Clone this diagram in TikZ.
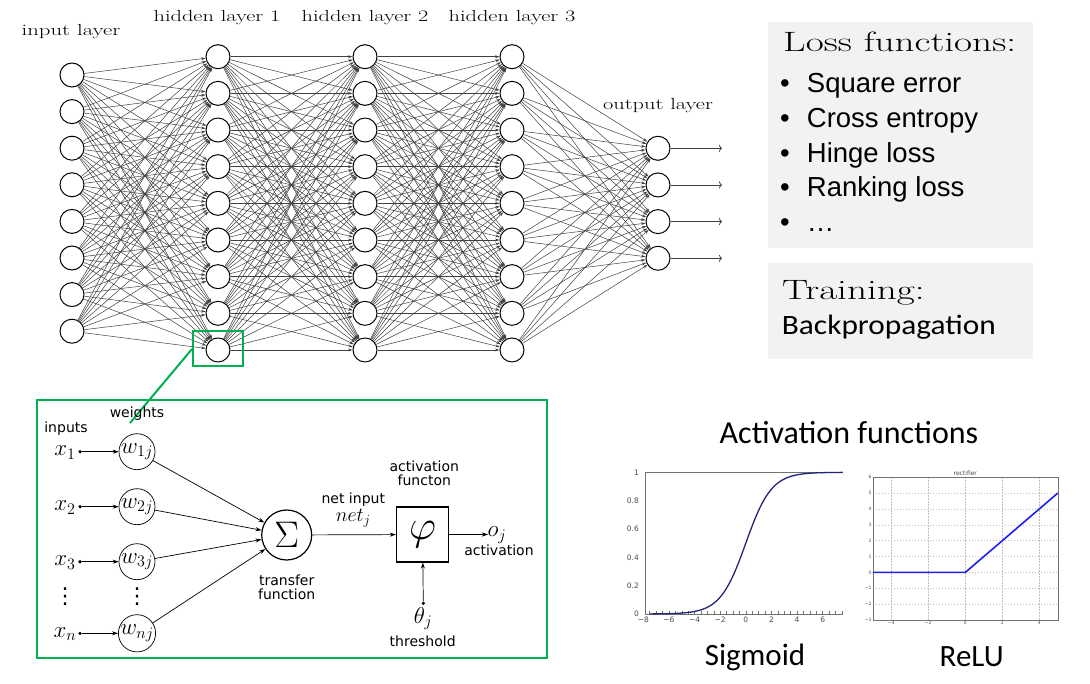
\RequirePackage{fix-cm}
\documentclass[tikz,border=0pt]{standalone}
\usepackage{fontspec}
\usepackage{amsmath}
\usetikzlibrary{arrows.meta,positioning}
\newfontfamily\arialfont{Liberation Sans}
\newfontfamily\calibrifont{Carlito}
\newfontfamily\verafont{DejaVu Sans}
\definecolor{frame green}{RGB}{0,176,80}
\definecolor{panel gray}{RGB}{242,242,242}
\definecolor{sigmoid navy}{RGB}{36,36,120}
\definecolor{relu blue}{RGB}{30,30,240}
\newcommand{\widened}[2]{\scalebox{#1}[1]{#2}}
\tikzset{unit node/.style={circle, draw, line width=1pt, fill=white, minimum size=24pt, inner sep=0pt}}
\tikzset{net edge/.style={draw=black!75, line width=0.5pt, -{Stealth[length=4.5pt,width=2.8pt]}}}
\tikzset{out edge/.style={draw=black!75, line width=0.8pt, -{To[length=3pt,width=7pt]}}}
\tikzset{layer label/.style={anchor=base, inner sep=0pt, font=\fontsize{16}{18}\selectfont}}
\tikzset{green frame/.style={draw=frame green, line width=2pt, inner sep=0pt}}
\tikzset{weight node/.style={circle, draw, line width=0.7pt, minimum size=36pt, inner sep=0pt, font=\fontsize{23}{25}\selectfont}}
\tikzset{input dot/.style={circle, fill, inner sep=0pt, minimum size=3.6pt}}
\tikzset{neuron edge/.style={draw, line width=0.7pt, -{Stealth[length=6pt,width=4pt]}}}
\tikzset{neuron text/.style={anchor=base, inner sep=0pt, align=center, font=\verafont\fontsize{14}{14.3}\selectfont}}
\tikzset{neuron math/.style={anchor=base, inner sep=0pt, font=\fontsize{23}{25}\selectfont}}
\tikzset{panel/.style={fill=panel gray, anchor=north west, inner sep=0pt}}
\tikzset{panel title/.style={anchor=base west, inner sep=0pt, font=\fontsize{28}{30}\selectfont}}
\tikzset{panel item/.style={anchor=base west, inner sep=0pt, font=\arialfont\fontsize{27.5}{30}\selectfont}}
\tikzset{caption/.style={anchor=base, inner sep=0pt, font=\calibrifont\fontsize{31}{34}\selectfont}}
\tikzset{plot axis/.style={draw=black!55, line width=0.8pt}}
\tikzset{grid line/.style={draw=black!25, line width=0.4pt, dash pattern=on 1.5pt off 1.5pt}}
\tikzset{tick label/.style={inner sep=0pt, text=black!70, font=\verafont\fontsize{7.5}{8}\selectfont}}
\tikzset{tiny label/.style={inner sep=1pt, text=black!70, font=\verafont\fontsize{4.5}{5}\selectfont}}

\begin{document}
\begin{tikzpicture}[x=1pt, y=-1pt]
  \useasboundingbox [fill=white] (0,0) rectangle (1090,684);

  % network
  \foreach \i in {1,...,8}
    \node [unit node] (l0n\i) at (72, 38.4+36.6*\i) {};
  \foreach \layer/\xpos in {1/218, 2/365, 3/512}
    \foreach \i in {1,...,9}
      \node [unit node] (l\layer n\i) at (\xpos, 20.04+36.66*\i) {};
  \foreach \i in {1,...,4}
    \node [unit node] (l4n\i) at (658, 111.64+36.66*\i) {};

  \foreach \i in {1,...,8}
    \foreach \j in {1,...,9}
      \draw [net edge] (l0n\i) -- (l1n\j);
  \foreach \layer/\next in {1/2, 2/3}
    \foreach \i in {1,...,9}
      \foreach \j in {1,...,9}
        \draw [net edge] (l\layer n\i) -- (l\next n\j);
  \foreach \i in {1,...,9}
    \foreach \j in {1,...,4}
      \draw [net edge] (l3n\i) -- (l4n\j);
  \foreach \i in {1,...,4} {
    \coordinate (y\i) at (722, 111.64+36.66*\i);
    \draw [out edge] (l4n\i) -- (y\i);
  }

  \node [layer label] (input label)   at ( 71,  36) {\widened{1.42}{input layer}};
  \node [layer label] (hidden1 label) at (217,  22) {\widened{1.4}{hidden layer 1}};
  \node [layer label] (hidden2 label) at (365,  22) {\widened{1.4}{hidden layer 2}};
  \node [layer label] (hidden3 label) at (512,  22) {\widened{1.4}{hidden layer 3}};
  \node [layer label] (output label)  at (658, 110) {\widened{1.4}{output layer}};

  % zoom onto one unit
  \node [green frame, minimum width=50pt, minimum height=35pt] (zoom) at (218, 349) {};
  \node [green frame, minimum width=510pt, minimum height=258pt] (neuron frame) at (291.7, 529) {};
  \coordinate (zoom end) at (130, 423);
  \draw [draw=frame green, line width=2pt] (zoom.west) -- (zoom end);

  % single neuron
  \node [circle, draw, line width=1.2pt, minimum size=50pt, inner sep=0pt,
         font=\fontsize{37}{40}\selectfont] (sum) at (286.7, 535) {$\Sigma$};
  \node [draw, line width=1.2pt, minimum width=52pt, minimum height=55pt, inner sep=0pt,
         font=\fontsize{42}{44}\selectfont] (phi) at (422.5, 534.5) {$\varphi$};

  \node [neuron text] (inputs label)  at ( 66, 433) {inputs};
  \node [neuron text] (weights label) at (137, 418) {weights};
  \foreach \k/\ypos in {1/451.7, 2/506.7, 3/561.7, n/633.3} {
    \node [neuron math] (x\k) at (65, \ypos+4) {$x_{\k}$};
    \node [input dot] (d\k) at (80, \ypos) {};
    \node [weight node] (w\k) at (137, \ypos) {$w_{\k j}$};
    \draw [neuron edge] (d\k) -- (w\k);
    \draw [neuron edge] (w\k) -- (sum);
  }
  \node [inner sep=0pt, font=\verafont\fontsize{22}{24}\selectfont] (x dots) at ( 65, 597) {⋮};
  \node [inner sep=0pt, font=\verafont\fontsize{22}{24}\selectfont] (w dots) at (137, 597) {⋮};

  \draw [neuron edge] (sum) -- (phi);
  \node [neuron text] (net label) at (353.3, 503.3) {net input};
  \node [neuron math, font=\fontsize{20}{22}\selectfont] (net) at (353.3, 521.7) {$net_j$};
  \node [neuron text, anchor=center] (transfer label) at (286.7, 587) {transfer\\function};
  \node [neuron text, anchor=center] (activation fn label) at (424.3, 473) {activation\\functon};

  \coordinate (o end) at (488, 534.5);
  \draw [neuron edge] (phi) -- (o end);
  \node [neuron math] (o) at (497, 536.7) {$o_j$};
  \node [neuron text] (activation label) at (499, 555.7) {activation};

  \node [input dot] (theta dot) at (423.3, 603.3) {};
  \draw [neuron edge] (theta dot) -- (phi);
  \node [neuron math] (theta) at (423, 623) {$\theta_j$};
  \node [neuron text] (threshold label) at (422.7, 646.7) {threshold};

  % loss functions and training
  \node [panel, minimum width=265pt, minimum height=226pt] (loss box) at (768, 22) {};
  \node [panel title] (loss title) at (783, 51.7) {\widened{1.4}{Loss functions:}};
  \foreach \lossname [count=\k] in {Square error, Cross entropy, Hinge loss, Ranking loss, …} {
    \node [panel item] (bullet\k) at (780, 58.3+34.6*\k) {\textbullet};
    \node [panel item] (item\k) at (806.7, 58.3+34.6*\k) {\lossname};
  }
  \node [panel, minimum width=265pt, minimum height=96pt] (training box) at (768, 262.7) {};
  \node [panel title] (training title) at (782, 300) {\widened{1.4}{Training:}};
  \node [panel item, font=\calibrifont\fontsize{28}{30}\selectfont] (backprop) at (781.7, 335) {\widened{1.12}{Backpropagation}};

  % activation functions
  \node [caption, font=\calibrifont\fontsize{32}{34}\selectfont] (activation title) at (849, 443.3) {Activation functions};
  \node [caption] (sigmoid caption) at (755, 665) {Sigmoid};
  \node [caption] (relu caption) at (971.7, 666.7) {ReLU};

  \begin{scope}[shift={(745.8,614)}, x=12.81pt, y=141.7pt]
    \draw [plot axis] (-7.87,0) -- (7.56,0);
    \draw [plot axis] (-7.87,0) -- (-7.87,1) -- (7.56,1);
    \foreach \t in {-7.5,-7,...,7.5}
      \draw [plot axis, line width=0.5pt] (\t,0) -- (\t,0.02);
    \foreach \t/\s in {-8/−8, -6/−6, -4/−4, -2/−2, 0/0, 2/2, 4/4, 6/6}
      \node [tick label, anchor=north, yshift=-2.5pt] (sx\t) at (\t,0) {\s};
    \foreach \v in {0, 0.2, 0.4, 0.6, 0.8, 1}
      \node [tick label, anchor=east, xshift=-6pt] (sy\v) at (-7.87,\v) {\v};
    \draw [draw=sigmoid navy, line width=1.3pt] plot [domain=-7.5:7.56, samples=120] (\x, {1/(1+exp(-\x))});
  \end{scope}

  \begin{scope}[shift={(965.3,572.4)}, x=18.5pt, y=15.86pt]
    \foreach \gx in {-4,-2,0,2,4}
      \draw [grid line] (\gx,-3) -- (\gx,6);
    \foreach \gy in {-2,...,5}
      \draw [grid line] (-5,\gy) -- (5,\gy);
    \draw [plot axis, line width=0.6pt] (-5,-3) rectangle (5,6);
    \foreach \t/\s in {-4/−4, -2/−2, 0/0, 2/2, 4/4}
      \node [tiny label, anchor=north] (rx\t) at (\t,-3) {\s};
    \foreach \t/\s in {-3/−3, -2/−2, -1/−1, 0/0, 1/1, 2/2, 3/3, 4/4, 5/5, 6/6}
      \node [tiny label, anchor=east] (ry\t) at (-5,\t) {\s};
    \node [tiny label, anchor=south, font=\verafont\fontsize{6}{7}\selectfont] (relu title) at (0,6) {rectifier};
    \draw [draw=relu blue, line width=1.6pt] (-5,0) -- (0,0) -- (5,5);
  \end{scope}
\end{tikzpicture}
\end{document}
